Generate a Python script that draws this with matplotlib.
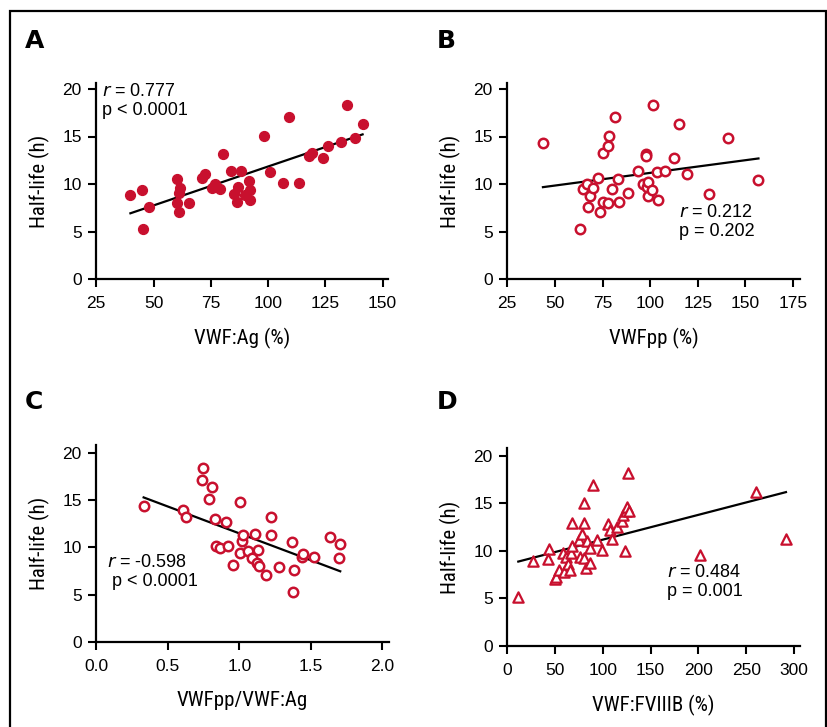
import numpy as np
import matplotlib
matplotlib.use('Agg')
import matplotlib.pyplot as plt
from matplotlib.patches import Rectangle
from matplotlib import font_manager

# --- данные ---
# A: VWF:Ag (%) vs half-life (h)
ag_x = [39.9, 45.0, 45.5, 48.2, 60.1, 61.6, 61.3, 60.4, 61.3, 65.4,
        71.0, 72.5, 75.4, 76.9, 79.0, 80.4, 84.0, 88.1, 86.8, 85.3,
        86.6, 90.0, 91.6, 92.2, 92.2, 98.3, 100.8, 106.7, 109.1, 113.7,
        117.8, 119.4, 123.8, 126.4, 131.9, 134.4, 138.2, 141.3]
ag_y = [8.84, 9.37, 5.30, 7.54, 10.56, 9.54, 9.09, 7.96, 7.02, 8.04,
        10.67, 11.05, 9.54, 9.96, 9.47, 13.19, 11.40, 11.40, 9.72, 8.95,
        8.14, 8.81, 10.35, 9.37, 8.28, 15.09, 11.30, 10.14, 17.09, 10.07,
        12.95, 13.23, 12.70, 14.00, 14.39, 18.35, 14.84, 16.35]

# B: VWFpp (%)
pp_x = [43.7, 63.2, 64.9, 67.0, 67.2, 68.2, 69.8, 72.6, 73.7, 75.1,
        75.1, 77.9, 78.2, 77.9, 80.1, 81.5, 82.9, 83.6, 88.5, 93.6,
        96.1, 98.0, 98.0, 98.5, 98.9, 99.0, 101.0, 101.7, 103.8, 104.1,
        107.6, 112.7, 115.0, 119.2, 130.9, 140.7, 156.8]
pp_y = [14.35, 5.26, 9.44, 9.96, 7.58, 8.77, 9.61, 10.67, 7.09, 13.30,
        8.07, 14.00, 15.05, 7.96, 9.47, 17.09, 10.53, 8.14, 9.05, 11.40,
        10.04, 13.16, 12.91, 9.65, 10.18, 8.77, 9.37, 18.35, 11.26, 8.32,
        11.40, 12.70, 16.32, 11.05, 8.98, 14.81, 10.39]

# C: VWFpp/VWF:Ag
ratio_x = [0.331, 0.608, 0.627, 0.737, 0.748, 0.807, 0.788, 0.830, 0.834, 0.867,
           0.907, 0.918, 0.956, 1.005, 1.005, 1.016, 1.028, 1.061, 1.091, 1.110,
           1.128, 1.126, 1.138, 1.186, 1.219, 1.219, 1.280, 1.366, 1.385, 1.378,
           1.441, 1.445, 1.522, 1.636, 1.697, 1.706]
ratio_y = [14.41, 13.99, 13.25, 17.12, 18.42, 16.38, 15.08, 12.97, 10.12, 9.95,
           12.72, 10.19, 8.15, 14.83, 9.46, 10.72, 11.28, 9.63, 8.86, 11.42,
           9.70, 8.33, 8.05, 7.06, 13.18, 11.35, 7.98, 10.58, 7.63, 5.27,
           8.96, 9.35, 8.96, 11.07, 8.89, 10.33]

# D: VWF:FVIIIB (%)
fviii_x = [11.5, 27.2, 43.3, 42.9, 50.2, 50.6, 53.7, 58.6, 59.6, 61.4,
           63.1, 65.2, 66.3, 67.3, 67.3, 74.6, 76.0, 78.5, 80.2, 80.2,
           79.9, 82.0, 83.0, 86.2, 86.5, 89.6, 94.2, 99.1, 105.3, 107.4,
           109.5, 114.4, 119.6, 120.7, 122.8, 123.8, 125.6, 126.6, 127.7, 201.6,
           259.9, 291.6]
fviii_y = [5.12, 8.98, 10.18, 9.19, 7.05, 7.30, 8.00, 9.82, 7.82, 9.40,
           8.63, 8.00, 9.82, 12.98, 10.53, 11.12, 9.40, 11.79, 12.98, 15.02,
           9.23, 8.18, 11.09, 10.35, 8.70, 16.95, 11.16, 10.11, 12.84, 12.21,
           11.26, 12.56, 13.19, 13.82, 9.96, 14.18, 14.67, 18.25, 14.18, 9.58,
           16.21, 11.30]

RED = '#c8102e'
TICKFONT = ['Liberation Sans', 'DejaVu Sans']

# узкий шрифт для подписей осей, если есть
installed = {f.name for f in font_manager.fontManager.ttflist}
if 'Liberation Sans Narrow' in installed:
    LABFONT = dict(family=['Liberation Sans Narrow', 'DejaVu Sans'])
elif 'Roboto Condensed' in installed:
    LABFONT = dict(family=['Roboto Condensed', 'DejaVu Sans'])
else:
    LABFONT = dict(family=['DejaVu Sans'], stretch='condensed')

W, H = 828, 727
fig = plt.figure(figsize=(W / 100, H / 100), dpi=100)


def make_ax(left_px, right_px, bottom_px, top_px):
    return fig.add_axes([left_px / W, 1 - bottom_px / H,
                         (right_px - left_px) / W, (bottom_px - top_px) / H])


def style(ax, xlim, ylim, xticks, xticklabels, xlabel):
    ax.set_xlim(*xlim)
    ax.set_ylim(*ylim)
    ax.set_xticks(xticks)
    ax.set_xticklabels(xticklabels)
    ax.set_yticks([0, 5, 10, 15, 20])
    for s in ['top', 'right']:
        ax.spines[s].set_visible(False)
    for s in ['left', 'bottom']:
        ax.spines[s].set_linewidth(1.6)
    ax.tick_params(direction='out', length=6, width=1.5, labelsize=12.5)
    ax.tick_params(axis='x', pad=6)
    ax.tick_params(axis='y', pad=4.5)
    for lab in ax.get_xticklabels() + ax.get_yticklabels():
        lab.set_family(TICKFONT)
    ax.set_xlabel(xlabel, fontsize=15, labelpad=12.5, **LABFONT)
    ax.set_ylabel('Half-life (h)', fontsize=15, labelpad=9, **LABFONT)


def fit_line(ax, x, y):
    x = np.asarray(x)
    k, b = np.polyfit(x, np.asarray(y), 1)
    xs = np.array([x.min(), x.max()])
    ax.plot(xs, k * xs + b, color='black', lw=1.6, zorder=2)


def stats(ax, x, y, rtxt, ptxt):
    ax.text(x, y, r'$\it{r}$' + ' = ' + rtxt + '\n' + ptxt, fontsize=13,
            family=TICKFONT, va='top', ha='left', linespacing=1.15,
            math_fontfamily='dejavusans')


# --- A ---
axA = make_ax(96.3, 388, 279, 83.3)
axA.scatter(ag_x, ag_y, s=50, color=RED, edgecolors=RED, zorder=3)
fit_line(axA, ag_x, ag_y)
style(axA, (25, 152.4), (0, 20.6), [25, 50, 75, 100, 125, 150],
      ['25', '50', '75', '100', '125', '150'], 'VWF:Ag (%)')
stats(axA, 27.5, 20.6, '0.777', 'p < 0.0001')

# --- B ---
axB = make_ax(507.3, 800, 279, 83.3)
axB.scatter(pp_x, pp_y, s=46, facecolors='white', edgecolors=RED,
            linewidths=1.8, zorder=3)
fit_line(axB, pp_x, pp_y)
style(axB, (25, 178.6), (0, 20.6), [25, 50, 75, 100, 125, 150, 175],
      ['25', '50', '75', '100', '125', '150', '175'], 'VWFpp (%)')
stats(axB, 115, 7.85, '0.212', 'p = 0.202')

# --- C ---
axC = make_ax(96.3, 389, 642.3, 445)
axC.scatter(ratio_x, ratio_y, s=46, facecolors='white', edgecolors=RED,
            linewidths=1.8, zorder=3)
fit_line(axC, ratio_x, ratio_y)
style(axC, (0, 2.047), (0, 20.8), [0, 0.5, 1.0, 1.5, 2.0],
      ['0.0', '0.5', '1.0', '1.5', '2.0'], 'VWFpp/VWF:Ag')
stats(axC, 0.077, 9.35, '-0.598', ' p < 0.0001')

# --- D ---
axD = make_ax(507.3, 800, 646, 448.3)
axD.scatter(fviii_x, fviii_y, s=55, marker='^', facecolors='white',
            edgecolors=RED, linewidths=1.6, zorder=3)
fit_line(axD, fviii_x, fviii_y)
style(axD, (0, 306.3), (0, 20.8), [0, 50, 100, 150, 200, 250, 300],
      ['0', '50', '100', '150', '200', '250', '300'], 'VWF:FVIIIB (%)')
stats(axD, 166.8, 8.6, '0.484', 'p = 0.001')

# буквы панелей
for lab, xp, yp in [('A', 25, 41), ('B', 437, 41), ('C', 25, 402), ('D', 437, 402)]:
    fig.text(xp / W, 1 - yp / H, lab, fontsize=18, fontweight='bold',
             va='center', ha='left', family=['DejaVu Sans'])

# рамка
fig.add_artist(Rectangle((10 / W, -0.02), (826 - 10) / W, 1 - 11 / H + 0.02,
                         transform=fig.transFigure, fill=False,
                         edgecolor='black', lw=1.6))

fig.savefig('out.png', dpi=100)
